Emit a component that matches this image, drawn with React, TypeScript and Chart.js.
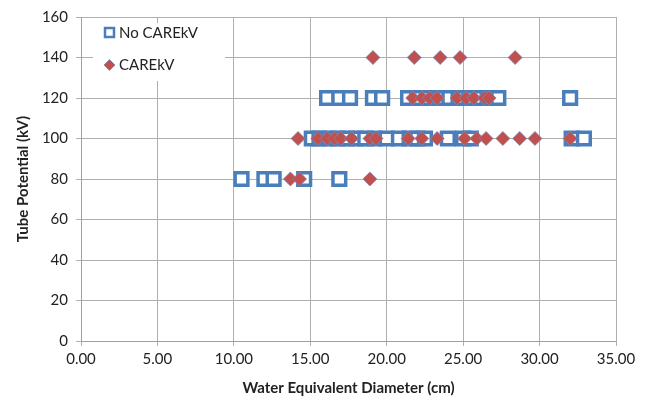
import React, { useEffect, useRef } from "react";
import { Chart, registerables } from "chart.js";

Chart.register(...registerables);

// Water equivalent diameter (cm) per tube potential level
const noCareDiameter80 = [10.5, 12.0, 12.6, 14.6, 16.9];
const noCareDiameter100 = [15.1, 15.6, 16.2, 16.8, 17.4, 18.0, 18.6, 19.2, 20.0, 20.8, 21.5, 22.0, 22.5, 24.0, 25.0, 25.5, 32.1, 32.9];
const noCareDiameter120 = [16.1, 16.9, 17.6, 19.1, 19.7, 21.4, 22.0, 22.7, 23.4, 24.1, 24.7, 25.4, 26.0, 26.6, 27.3, 32.0];
const careDiameter80 = [13.7, 14.3, 18.9];
const careDiameter100 = [14.2, 15.5, 16.1, 16.6, 17.0, 17.7, 18.9, 19.3, 21.4, 22.3, 23.3, 25.1, 25.9, 26.5, 27.6, 28.7, 29.7, 32.0];
const careDiameter120 = [21.7, 22.3, 22.8, 23.3, 24.6, 25.2, 25.7, 26.4, 26.7];
const careDiameter140 = [19.1, 21.8, 23.5, 24.8, 28.4];

const seriesNames = ["No CAREkV", "CAREkV"];
const xTicks = [0, 5, 10, 15, 20, 25, 30, 35];
const yTicks = [0, 20, 40, 60, 80, 100, 120, 140, 160];

const toPoints = (xs: number[], kv: number) => xs.map((x) => ({ x, y: kv }));

const noCarePoints = [
  ...toPoints(noCareDiameter80, 80),
  ...toPoints(noCareDiameter100, 100),
  ...toPoints(noCareDiameter120, 120),
];
const carePoints = [
  ...toPoints(careDiameter80, 80),
  ...toPoints(careDiameter100, 100),
  ...toPoints(careDiameter120, 120),
  ...toPoints(careDiameter140, 140),
];

const BLUE = "#4A7EBB";
const RED = "#C0504D";
const DIAMOND_EDGE = "#7F86B5";
const FONT = "Lato, 'Liberation Sans', sans-serif";

const legendPlugin = {
  id: "insideLegend",
  afterDatasetsDraw(chart: any) {
    const ctx = chart.ctx;
    const left = chart.chartArea.left;
    const top = chart.chartArea.top;
    ctx.save();
    ctx.fillStyle = "#FFFFFF";
    ctx.fillRect(left + 12, top + 6, 132, 58);
    // square marker
    ctx.strokeStyle = BLUE;
    ctx.lineWidth = 2.5;
    ctx.fillStyle = "#FFFFFF";
    ctx.beginPath();
    ctx.rect(left + 24, top + 11, 9, 9);
    ctx.fill();
    ctx.stroke();
    // diamond marker
    const dx = left + 28.5, dy = top + 48;
    ctx.beginPath();
    ctx.moveTo(dx, dy - 5.5);
    ctx.lineTo(dx + 5.5, dy);
    ctx.lineTo(dx, dy + 5.5);
    ctx.lineTo(dx - 5.5, dy);
    ctx.closePath();
    ctx.fillStyle = RED;
    ctx.fill();
    ctx.strokeStyle = DIAMOND_EDGE;
    ctx.lineWidth = 0.8;
    ctx.stroke();
    ctx.fillStyle = "#222222";
    ctx.font = `15px ${FONT}`;
    ctx.textBaseline = "middle";
    ctx.textAlign = "left";
    ctx.fillText(seriesNames[0], left + 38, top + 16);
    ctx.fillText(seriesNames[1], left + 38, top + 48);
    ctx.restore();
  },
};

export default function App() {
  const ref = useRef<HTMLCanvasElement | null>(null);
  useEffect(() => {
    document.body.style.margin = "0";
    if (!ref.current) return;
    const chart = new Chart(ref.current, {
      type: "scatter",
      data: {
        datasets: [
          {
            label: seriesNames[0],
            data: noCarePoints,
            order: 2,
            pointStyle: "rect",
            pointRadius: 9,
            pointBorderWidth: 3.5,
            borderColor: BLUE,
            backgroundColor: "#FFFFFF",
            pointHoverRadius: 9,
          },
          {
            label: seriesNames[1],
            data: carePoints,
            order: 1,
            pointStyle: "rectRot",
            pointRadius: 7,
            pointBorderWidth: 0.8,
            borderColor: DIAMOND_EDGE,
            backgroundColor: RED,
            pointHoverRadius: 7,
          },
        ],
      },
      options: {
        animation: false,
        responsive: false,
        layout: { padding: { top: 16, right: 32, left: 0, bottom: 0 } },
        plugins: {
          legend: { display: false },
          tooltip: { enabled: false },
        },
        scales: {
          x: {
            type: "linear",
            min: 0,
            max: 35,
            afterBuildTicks: (scale: any) => {
              scale.ticks = xTicks.map((v) => ({ value: v }));
            },
            afterFit: (scale: any) => {
              scale.height = 66;
            },
            ticks: {
              callback: (v: any) => Number(v).toFixed(2),
              font: { family: FONT, size: 15 },
              color: "#222222",
              padding: 4,
              maxRotation: 0,
            },
            grid: { color: "#B0B0B0", tickLength: 5, lineWidth: 1 },
            border: { color: "#A0A0A0" },
            title: {
              display: true,
              text: "Water Equivalent Diameter (cm)",
              font: { family: FONT, size: 15, weight: "bold" },
              color: "#222222",
              padding: { top: 4, bottom: 10 },
            },
          },
          y: {
            type: "linear",
            min: 0,
            max: 160,
            afterBuildTicks: (scale: any) => {
              scale.ticks = yTicks.map((v) => ({ value: v }));
            },
            afterFit: (scale: any) => {
              scale.width = 81;
            },
            ticks: {
              font: { family: FONT, size: 15 },
              color: "#222222",
              padding: 8,
            },
            grid: { color: "#B0B0B0", tickLength: 5, lineWidth: 1 },
            border: { color: "#A0A0A0" },
            title: {
              display: true,
              text: "Tube Potential (kV)",
              font: { family: FONT, size: 15, weight: "bold" },
              color: "#222222",
              padding: { top: 14, bottom: 4 },
            },
          },
        },
      },
      plugins: [legendPlugin],
    } as any);
    return () => chart.destroy();
  }, []);
  return (
    <div style={{ position: "absolute", left: 0, top: 0, width: 648, height: 407, background: "#fff" }}>
      <canvas ref={ref} width={648} height={407} style={{ width: 648, height: 407 }} />
    </div>
  );
}
